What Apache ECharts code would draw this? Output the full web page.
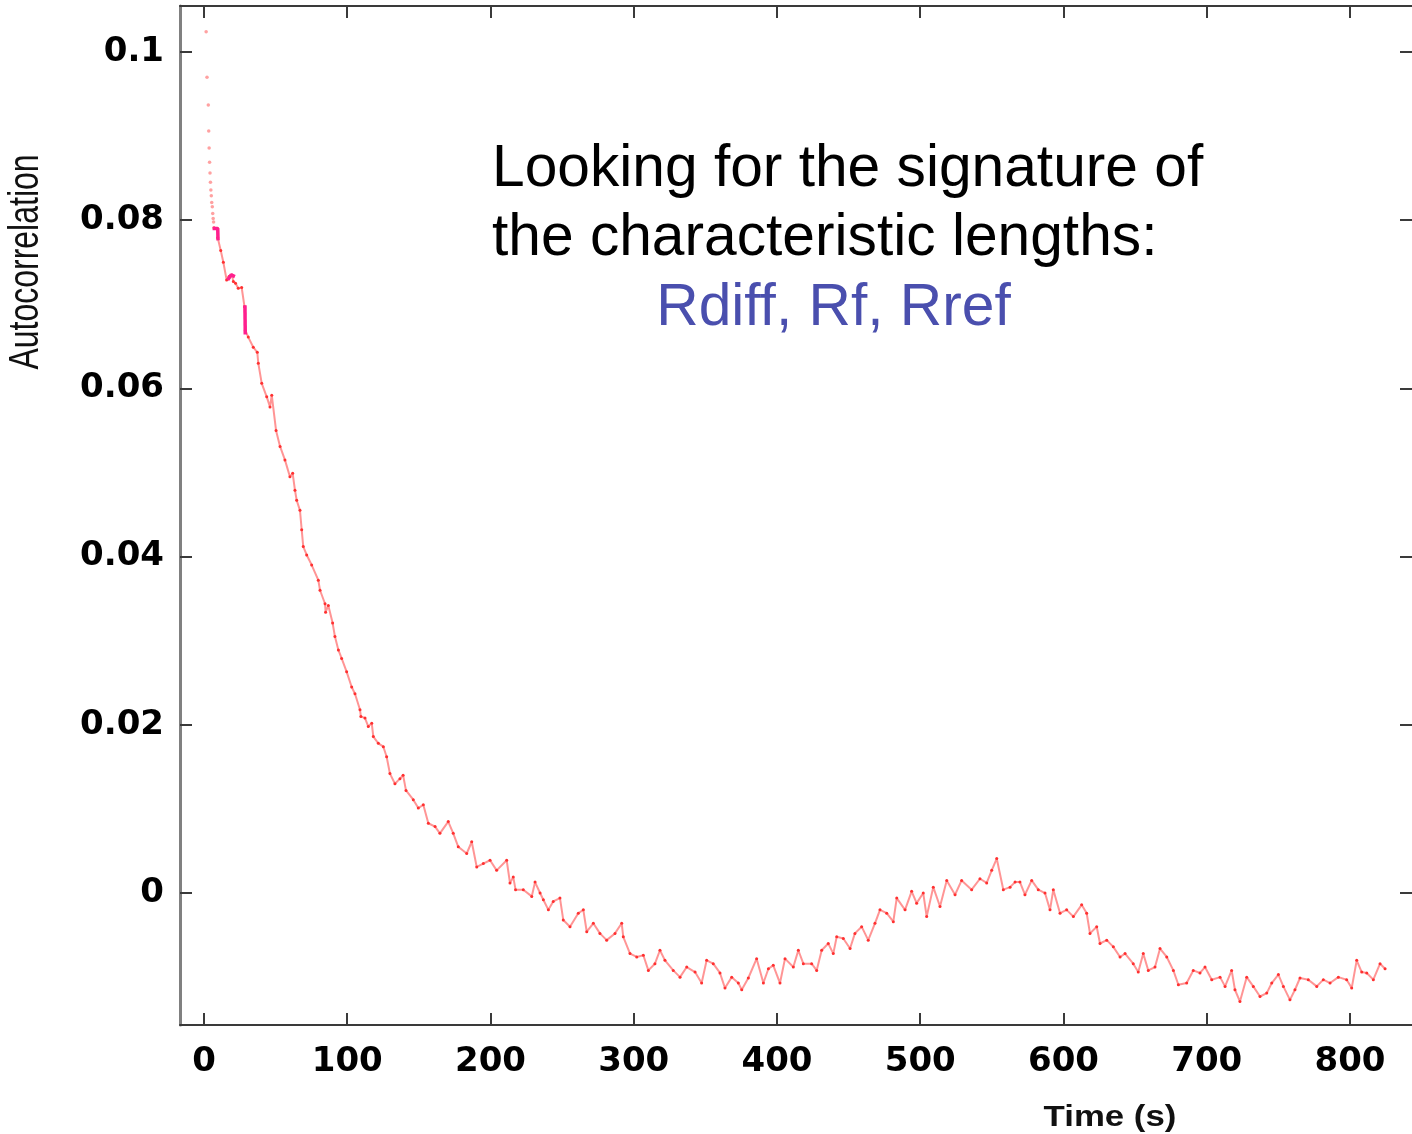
<!DOCTYPE html>
<html>
<head>
<meta charset="utf-8">
<script src="https://cdn.jsdelivr.net/npm/echarts@6/dist/echarts.min.js"></script>
<style>
html,body{margin:0;padding:0;background:#fff;}
#chart{width:1412px;height:1134px;}
</style>
</head>
<body>
<div id="chart"></div>
<script>
// ---- data ----
const xTicks = [0, 100, 200, 300, 400, 500, 600, 700, 800];
const yTicks = [0, 0.02, 0.04, 0.06, 0.08, 0.1];

// first isolated points (steep start)
const dotT = [1.5, 2.1, 3.0, 3.3, 3.6, 3.9, 4.2, 4.5, 4.8, 5.1, 5.4, 5.8, 6.1, 6.4, 6.7];
const dotV = [0.1024, 0.0970, 0.0937, 0.0906, 0.0886, 0.0869, 0.0856, 0.0845, 0.0836, 0.0829, 0.0821, 0.0816, 0.0808, 0.0802, 0.0798];

// main autocorrelation trace
const timeS = [
  7.0, 9.5, 9.6, 11.7, 13.5, 15.8, 17.5, 19.5, 20.5, 22.0, 23.9, 26.3, 28.3, 28.9, 30.9, 34.4, 37.2, 37.9, 40.3, 43.8,
  46.1, 47.3, 50.3, 53.1, 56.5, 60.0, 61.9, 63.5, 64.7, 67.0, 68.2, 69.3, 71.7, 75.2, 79.8, 81.0, 84.5, 84.9, 86.8, 89.8,
  91.4, 93.8, 96.1, 99.6, 103.1, 105.4, 108.9, 109.5, 112.4, 114.7, 117.1, 118.2, 121.7, 125.2, 127.5, 129.8, 133.3, 136.8, 139.0, 141.0,
  146.1, 149.6, 153.1, 156.6, 161.3, 164.7, 170.5, 174.0, 177.5, 183.4, 186.9, 190.4, 195.0, 199.7, 204.3, 211.3, 213.6, 215.9, 217.5, 222.9,
  228.8, 231.1, 234.6, 236.9, 240.4, 243.8, 248.5, 250.8, 255.5, 261.3, 264.8, 267.2, 271.8, 276.4, 281.1, 286.9, 291.6, 292.7, 297.4, 302.1,
  306.7, 310.2, 314.8, 318.3, 321.8, 327.6, 332.3, 337.0, 342.8, 347.4, 350.9, 355.5, 360.2, 363.7, 368.4, 373.0, 375.4, 380.0, 385.8, 390.5,
  394.0, 397.4, 402.1, 405.6, 411.4, 414.9, 418.4, 424.2, 427.7, 431.2, 435.8, 439.3, 441.7, 446.3, 451.0, 454.4, 459.1, 463.7, 468.4, 471.9,
  476.6, 481.2, 483.6, 489.4, 494.0, 497.5, 502.1, 504.5, 509.1, 513.8, 518.5, 524.3, 528.9, 535.9, 541.7, 546.4, 549.9, 553.4, 558.0, 562.7,
  566.2, 569.6, 573.1, 577.8, 582.4, 587.1, 590.6, 592.9, 597.6, 602.2, 606.9, 612.7, 616.2, 618.5, 623.2, 625.5, 630.2, 634.8, 639.5, 643.0,
  648.7, 652.2, 655.7, 659.2, 663.9, 667.4, 672.1, 676.7, 680.2, 686.0, 690.6, 695.3, 698.8, 703.5, 709.3, 712.8, 717.4, 719.7, 723.2, 727.9,
  732.5, 737.2, 741.9, 745.4, 750.0, 753.5, 758.1, 761.6, 765.1, 770.9, 776.8, 781.4, 786.1, 791.9, 797.7, 801.2, 804.7, 808.2, 811.7, 816.3,
  821.0, 824.5
];
const autocorr = [
  0.0791, 0.0790, 0.0779, 0.0764, 0.0750, 0.0729, 0.0733, 0.0735, 0.0727, 0.0725, 0.0719, 0.0720, 0.0697, 0.0669, 0.0661, 0.0649, 0.0643, 0.0630, 0.0606, 0.0590,
  0.0578, 0.0592, 0.0550, 0.0531, 0.0515, 0.0495, 0.0499, 0.0479, 0.0467, 0.0455, 0.0432, 0.0412, 0.0402, 0.0390, 0.0372, 0.0360, 0.0344, 0.0334, 0.0342, 0.0321,
  0.0305, 0.0289, 0.0279, 0.0263, 0.0245, 0.0237, 0.0218, 0.0210, 0.0208, 0.0198, 0.0202, 0.0186, 0.0178, 0.0174, 0.0162, 0.0142, 0.0130, 0.0136, 0.0140, 0.0122,
  0.0111, 0.0101, 0.0105, 0.0083, 0.0079, 0.0071, 0.0085, 0.0071, 0.0055, 0.0047, 0.0061, 0.0031, 0.0035, 0.0039, 0.0027, 0.0039, 0.0012, 0.0019, 0.0004, 0.0004,
  -0.0004, 0.0013, 0.0000, -0.0008, -0.0020, -0.0010, -0.0006, -0.0032, -0.0040, -0.0024, -0.0020, -0.0046, -0.0036, -0.0048, -0.0056, -0.0048, -0.0036, -0.0052, -0.0072, -0.0076,
  -0.0074, -0.0092, -0.0084, -0.0068, -0.0080, -0.0092, -0.0100, -0.0088, -0.0094, -0.0107, -0.0080, -0.0084, -0.0095, -0.0113, -0.0100, -0.0107, -0.0115, -0.0101, -0.0078, -0.0107,
  -0.0090, -0.0086, -0.0107, -0.0078, -0.0088, -0.0068, -0.0084, -0.0084, -0.0092, -0.0068, -0.0060, -0.0072, -0.0052, -0.0054, -0.0066, -0.0048, -0.0040, -0.0056, -0.0036, -0.0020,
  -0.0024, -0.0034, -0.0006, -0.0020, 0.0002, -0.0012, 0.0000, -0.0028, 0.0007, -0.0016, 0.0015, -0.0002, 0.0015, 0.0004, 0.0017, 0.0012, 0.0027, 0.0041, 0.0004, 0.0007,
  0.0013, 0.0013, -0.0002, 0.0015, 0.0004, 0.0000, -0.0020, 0.0004, -0.0024, -0.0020, -0.0028, -0.0014, -0.0024, -0.0048, -0.0040, -0.0060, -0.0056, -0.0064, -0.0076, -0.0072,
  -0.0084, -0.0094, -0.0072, -0.0092, -0.0088, -0.0066, -0.0076, -0.0092, -0.0109, -0.0107, -0.0092, -0.0095, -0.0088, -0.0103, -0.0100, -0.0111, -0.0092, -0.0115, -0.0129, -0.0100,
  -0.0111, -0.0123, -0.0119, -0.0107, -0.0097, -0.0111, -0.0127, -0.0115, -0.0101, -0.0103, -0.0111, -0.0103, -0.0107, -0.0100, -0.0103, -0.0113, -0.0080, -0.0094, -0.0095, -0.0103,
  -0.0084, -0.0090
];

// magenta highlighted bits near the start
const magentaT1 = [6.0, 9.6, 9.8];
const magentaV1 = [0.0790, 0.0790, 0.0776];
const magentaT2 = [16.5, 19.0, 21.6];
const magentaV2 = [0.0729, 0.0735, 0.0733];
const magentaT3 = [28.6, 28.8];
const magentaV3 = [0.0699, 0.0664];

// ---- chart ----
const zip = (a, b) => a.map((t, i) => [t, b[i]]);
const X_MIN = -16.75, X_MAX = 843.3;
const Y_MIN = -0.01569, Y_MAX = 0.10547;

const axisCol = '#3a3a3a';
function xAxisDef(pos, showLabel) {
  return {
    type: 'value', position: pos, min: X_MIN, max: X_MAX,
    axisLine: { show: true, onZero: false, lineStyle: { color: axisCol, width: 2 } },
    axisTick: { show: true, inside: true, length: 12, customValues: xTicks, lineStyle: { color: axisCol, width: 2 } },
    axisLabel: {
      show: showLabel, customValues: xTicks, margin: 20,
      fontFamily: 'DejaVu Sans', fontWeight: 'bold', fontSize: 34, color: '#000'
    },
    splitLine: { show: false }
  };
}
function yAxisDef(pos, showLabel, lineShow, col, w) {
  return {
    type: 'value', position: pos, min: Y_MIN, max: Y_MAX,
    axisLine: { show: lineShow, onZero: false, lineStyle: { color: col, width: w } },
    axisTick: { show: true, inside: true, length: 12, customValues: yTicks, lineStyle: { color: axisCol, width: 2 } },
    axisLabel: {
      show: showLabel, customValues: yTicks, margin: 16,
      formatter: v => String(+(+v).toFixed(2)),
      fontFamily: 'DejaVu Sans', fontWeight: 'bold', fontSize: 34, color: '#000'
    },
    splitLine: { show: false }
  };
}

const chart = echarts.init(document.getElementById('chart'), null, { renderer: 'canvas' });
const magenta = '#ff1f8e';
const segStyle = (d) => ({
  type: 'line', data: d, xAxisIndex: 0, yAxisIndex: 0, showSymbol: false, silent: true,
  lineStyle: { color: magenta, width: 3.5 }, z: 5
});

chart.setOption({
  animation: false,
  backgroundColor: '#ffffff',
  grid: { left: 180, right: 0, top: 6, bottom: 109, containLabel: false, outerBoundsMode: 'none' },
  xAxis: [xAxisDef('bottom', true), xAxisDef('top', false)],
  yAxis: [yAxisDef('left', true, true, '#808080', 3), yAxisDef('right', false, false, axisCol, 2)],
  series: [
    {
      type: 'line', data: zip(timeS, autocorr), xAxisIndex: 0, yAxisIndex: 0,
      showSymbol: true, symbol: 'circle', symbolSize: 3, silent: true,
      itemStyle: { color: '#ff3030' },
      lineStyle: { color: '#ff7a7a', width: 2, opacity: 0.8 }, z: 3
    },
    {
      type: 'scatter', data: zip(dotT, dotV), xAxisIndex: 0, yAxisIndex: 0,
      symbol: 'circle', symbolSize: 3.5, silent: true,
      itemStyle: { color: '#ff8a8a' }, z: 3
    },
    segStyle(zip(magentaT1, magentaV1)),
    segStyle(zip(magentaT2, magentaV2)),
    segStyle(zip(magentaT3, magentaV3))
  ],
  graphic: [
    { type: 'text', x: 27, y: 262, rotation: Math.PI / 2, scaleY: 1.3,
      style: { text: 'Autocorrelation', font: '32px "Liberation Sans", Arial, sans-serif', fill: '#111',
               align: 'center', verticalAlign: 'middle', textAlign: 'center', textVerticalAlign: 'middle' } },
    { type: 'text', x: 1110, y: 1118, scaleX: 1.2,
      style: { text: 'Time (s)', font: 'bold 29px "Liberation Sans", Arial, sans-serif', fill: '#111',
               align: 'center', verticalAlign: 'middle', textAlign: 'center', textVerticalAlign: 'middle' } },
    { type: 'text', x: 492, y: 169.5,
      style: { text: 'Looking for the signature of', font: '58.7px "Liberation Sans", Arial, sans-serif', fill: '#000',
               align: 'left', verticalAlign: 'middle', textAlign: 'left', textVerticalAlign: 'middle' } },
    { type: 'text', x: 492, y: 238.5,
      style: { text: 'the characteristic lengths:', font: '58.7px "Liberation Sans", Arial, sans-serif', fill: '#000',
               align: 'left', verticalAlign: 'middle', textAlign: 'left', textVerticalAlign: 'middle' } },
    { type: 'text', x: 833.5, y: 308.5,
      style: { text: 'Rdiff, Rf, Rref', font: '58.7px "Liberation Sans", Arial, sans-serif', fill: '#4a4fae',
               align: 'center', verticalAlign: 'middle', textAlign: 'center', textVerticalAlign: 'middle' } }
  ]
});
</script>
</body>
</html>
